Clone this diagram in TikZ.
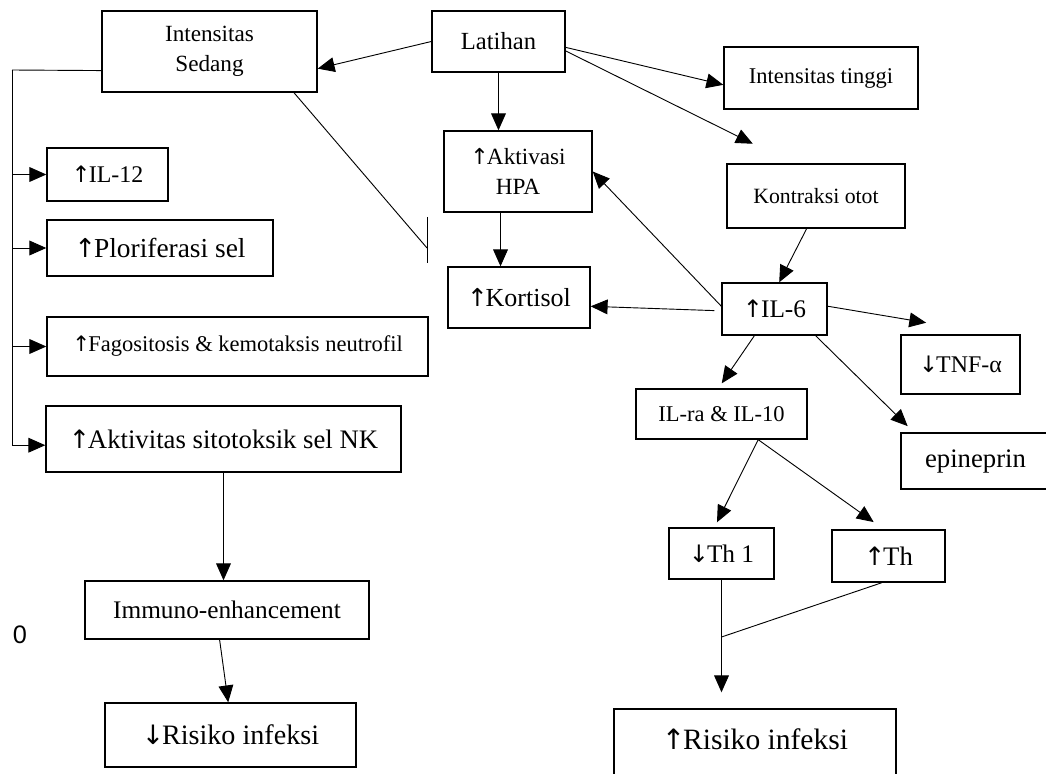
\documentclass[tikz,border=0pt]{standalone}
\usepackage{fontspec}
\setmainfont{Liberation Serif}
\newfontfamily\zerofont{Liberation Sans}
\newfontfamily\panahfont{DejaVu Sans}[Scale=0.95]
\newcommand{\naik}{{\panahfont ↑}\kern-0.08em}
\newcommand{\turun}{{\panahfont ↓}\kern-0.08em}
\usetikzlibrary{arrows.meta}

\tikzset{
	box/.style={draw, line width=1pt, inner sep=0pt, align=center},
	wh/.style 2 args={minimum width=#1*0.025cm, minimum height=#2*0.025cm},
	fs/.style 2 args={font=\fontsize{#1}{#2}\selectfont},
}

\begin{document}
\begin{tikzpicture}[x=0.025cm, y=-0.025cm, line width=0.65pt, >={Triangle[length=12pt,width=10.5pt]}]
			\useasboundingbox (0,0) rectangle (1046,774);
			\clip (0,0) rectangle (1046,774);

			\node[box, wh={215}{81}, fs={16.5}{21}] (sedang) at (209.5,51.5) {Intensitas\\Sedang};
			\node[box, wh={133}{61}, fs={17.5}{21}] (latihan) at (498.5,41.5) {Latihan};
			\node[box, wh={194}{62}, fs={16}{19}] (tinggi) at (821,78) {Intensitas tinggi};
			\node[box, wh={148}{81}, fs={16.5}{21}] (hpa) at (518,171.5) {\naik Aktivasi\\HPA};
			\node[box, wh={178}{64}, fs={15.5}{19}] (kontraksi) at (816,196) {Kontraksi otot};

			\node[box, wh={121}{53}, fs={17}{20}] (il12) at (107.5,174.5) {\naik IL-12};
			\node[box, wh={226}{56}, fs={19.5}{23}] (plor) at (160,248) {\naik Ploriferasi sel};
			\node[box, wh={381}{59}, fs={16}{19}] (fago) at (237.5,346.5) {\naik Fagositosis \& kemotaksis neutrofil};
			\node[box, wh={355}{66}, fs={19}{23}] (akt) at (223.5,439) {\naik Aktivitas sitotoksik sel NK};
			\node[box, wh={284}{58}, fs={18}{22}] (immuno) at (227,610) {Immuno-enhancement};
			\node[box, wh={251}{64}, fs={20}{24}] (risiko1) at (230.5,735) {\turun Risiko infeksi};

			\node[box, wh={142}{61}, fs={18.5}{22}] (kortisol) at (519,297.5) {\naik Kortisol};
			\node[box, wh={105}{52}, fs={18}{22}] (il6) at (774.5,309) {\naik IL-6};
			\node[box, wh={119}{59}, fs={17}{20}] (tnf) at (960.5,364.5) {\turun TNF-α};
			\node[box, wh={171}{50}, fs={16}{19}] (ilra) at (721.5,414) {IL-ra \& IL-10};
			\node[box, wh={149}{56}, fs={19}{23}] (epi) at (975.5,461) {epineprin};
			\node[box, wh={105}{51}, fs={18}{22}] (th1) at (721.5,553.5) {\turun Th 1};
			\node[box, wh={113}{52}, fs={19}{23}] (th2) at (888.5,556) {\naik Th};
			\node[box, wh={282}{72}, fs={21}{25}, text height=14pt, text depth=7pt] (risiko2) at (755,745) {\naik Risiko infeksi};

			\node[font=\zerofont\fontsize{18}{22}\selectfont] (nol) at (20,635) {0};

			\coordinate (spine) at (12,70);
			\coordinate (block) at (427,248);
			\coordinate (join) at (721.5,637);

			% dari latihan
			\draw[->] (latihan.west) -- (sedang.-9);
			\draw[->] (latihan.south) -- (latihan.south |- hpa.north);
			\draw[->] (latihan.-5) -- (tinggi.184);
			\draw[->, shorten >=1.1cm] (latihan.-8) -- (kontraksi.126);

			\draw[->] (kontraksi.-106) -- (il6.80);
			\draw[->] (il6.177) -- (hpa.east);
			\draw[->] (hpa.-113) -- (hpa.-113 |- kortisol.north);
			\draw[->, shorten <=5pt] (il6.182) -- (kortisol.-7);
			\draw[->, shorten >=1.75cm] (il6.3) -- (tnf.41);
			\draw[->, shorten >=0.22cm] (il6.-33) -- (epi.155);
			\draw[->, shorten >=0.15cm] (il6.-127) -- (ilra.97);

			\draw[->, shorten >=0.14cm] (ilra.-35) -- (th1.105);
			\draw[->, shorten >=0.31cm] (ilra.-35) -- (th2.100);
			\draw[->, shorten >=0.4cm] (th1.south) -- (th1.south |- risiko2.north);
			\draw (th2.-104) -- (join);

			% intensitas sedang
			\draw (sedang.190) -- (spine);
			\draw[->] (spine) |- (akt.182);
			\foreach \n in {il12, plor, fago}
			\draw[->] (spine |- \n.west) -- (\n.west);

			\draw (sedang.-26) -- (block);
			\draw (block) ++(0,-31) -- ++(0,46);

			\draw[->] (akt.south) -- (akt.south |- immuno.north);
			\draw[->] (immuno.-104) -- (risiko1.94);
		\end{tikzpicture}
\end{document}
